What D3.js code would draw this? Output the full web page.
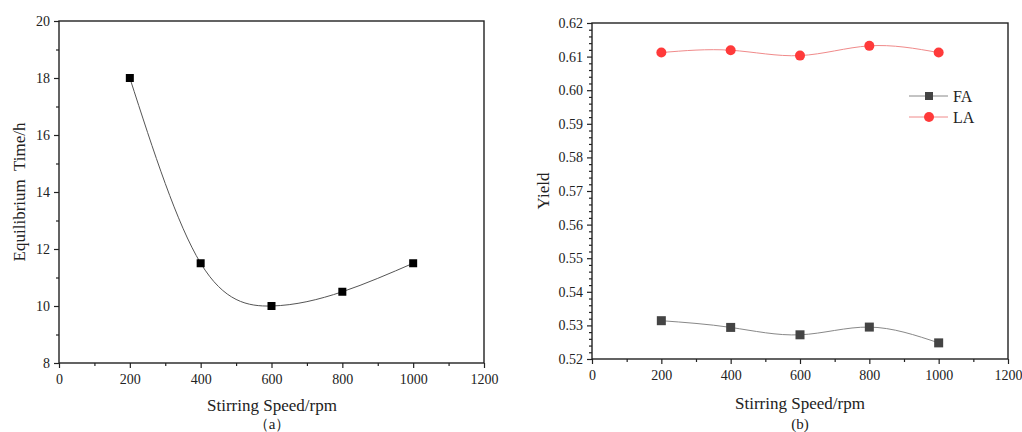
<!DOCTYPE html>
<html>
<head>
<meta charset="utf-8">
<script src="https://cdn.jsdelivr.net/npm/d3@7"></script>
<style>
  body { margin: 0; background: #fff; }
  svg text { font-family: "Liberation Serif", "DejaVu Serif", serif; fill: #222; }
</style>
</head>
<body>
<svg width="1022" height="432"></svg>
<script>
// data
var speeds = [200, 400, 600, 800, 1000];
var eqTime = [18, 11.5, 10, 10.5, 11.5];
var faYield = [0.5314, 0.5294, 0.5272, 0.5295, 0.5248];
var laYield = [0.6112, 0.6119, 0.6103, 0.6132, 0.6112];
var xTicks = [0, 200, 400, 600, 800, 1000, 1200];
var leftYTicks = [8, 10, 12, 14, 16, 18, 20];
var rightYTicks = [0.52, 0.53, 0.54, 0.55, 0.56, 0.57, 0.58, 0.59, 0.60, 0.61, 0.62];

var svg = d3.select("svg");

function panel(box, yDomain, yTicks, yMinor, yFmt) {
    var x = d3.scaleLinear().domain([0, 1200]).range([box.left, box.right]);
    var y = d3.scaleLinear().domain(yDomain).range([box.bottom, box.top]);
    var g = svg.append("g");

    // minor ticks
    g.append("g")
        .attr("transform", "translate(0," + box.bottom + ")")
        .call(d3.axisBottom(x).tickValues(d3.range(100, 1200, 200)).tickSize(3).tickFormat(""))
        .call(function(s) { s.select(".domain").remove(); });
    g.append("g")
        .attr("transform", "translate(" + box.left + ",0)")
        .call(d3.axisLeft(y).tickValues(yMinor).tickSize(3).tickFormat(""))
        .call(function(s) { s.select(".domain").remove(); });

    // major ticks
    var xa = g.append("g")
        .attr("transform", "translate(0," + box.bottom + ")")
        .call(d3.axisBottom(x).tickValues(xTicks).tickSize(5).tickPadding(6).tickFormat(d3.format("d")));
    var ya = g.append("g")
        .attr("transform", "translate(" + box.left + ",0)")
        .call(d3.axisLeft(y).tickValues(yTicks).tickSize(5).tickPadding(4).tickFormat(yFmt));
    [xa, ya].forEach(function(a) {
        a.attr("font-family", "Liberation Serif").attr("font-size", 14);
        a.selectAll("text").attr("fill", "#222");
        a.select(".domain").remove();
    });
    g.selectAll(".tick line").attr("stroke", "#222").attr("stroke-width", 1.2);

    g.append("rect")
        .attr("x", box.left).attr("y", box.top)
        .attr("width", box.right - box.left).attr("height", box.bottom - box.top)
        .attr("fill", "none").attr("stroke", "#222").attr("stroke-width", 1.4);

    return { x: x, y: y, g: g };
}

// (a)
var a = panel({ left: 59, right: 484, top: 21, bottom: 363 }, [8, 20], leftYTicks,
    d3.range(9, 20, 2), d3.format("d"));

var lineA = d3.line().curve(d3.curveNatural)
    .x(function(d, i) { return a.x(speeds[i]); })
    .y(function(d) { return a.y(d); });
a.g.append("path").datum(eqTime).attr("d", lineA)
    .attr("fill", "none").attr("stroke", "#555").attr("stroke-width", 1);
a.g.selectAll(".sq").data(eqTime).enter().append("rect")
    .attr("x", function(d, i) { return a.x(speeds[i]) - 4; })
    .attr("y", function(d) { return a.y(d) - 4; })
    .attr("width", 8).attr("height", 8).attr("fill", "#000");

svg.append("text").attr("x", 272).attr("y", 411).attr("text-anchor", "middle")
    .style("font-size", "17px").text("Stirring Speed/rpm");
svg.append("text").attr("x", 272).attr("y", 429).attr("text-anchor", "middle")
    .style("font-size", "15px").text("（a）");
svg.append("text").attr("transform", "translate(25,192) rotate(-90)")
    .attr("text-anchor", "middle").style("font-size", "17px")
    .attr("xml:space", "preserve").style("white-space", "pre")
    .text("Equilibrium  Time/h");

// (b)
var b = panel({ left: 592, right: 1008, top: 23, bottom: 359 }, [0.52, 0.62], rightYTicks,
    d3.range(0, 50).map(function(i) { return 0.52 + i * 0.002; }).filter(function(v, i) { return i % 5 !== 0; }),
    d3.format(".2f"));

var lineB = d3.line().curve(d3.curveNatural)
    .x(function(d, i) { return b.x(speeds[i]); })
    .y(function(d) { return b.y(d); });

b.g.append("path").datum(faYield).attr("d", lineB)
    .attr("fill", "none").attr("stroke", "#888").attr("stroke-width", 1);
b.g.append("path").datum(laYield).attr("d", lineB)
    .attr("fill", "none").attr("stroke", "#f08a8a").attr("stroke-width", 1);
b.g.selectAll(".fa").data(faYield).enter().append("rect")
    .attr("x", function(d, i) { return b.x(speeds[i]) - 4.5; })
    .attr("y", function(d) { return b.y(d) - 4.5; })
    .attr("width", 9).attr("height", 9).attr("fill", "#444");
b.g.selectAll(".la").data(laYield).enter().append("circle")
    .attr("cx", function(d, i) { return b.x(speeds[i]); })
    .attr("cy", function(d) { return b.y(d); })
    .attr("r", 5).attr("fill", "#ff3a3a");

// legend
var legend = [
    { name: "FA", y: 96, line: "#888", fill: "#444", shape: "sq" },
    { name: "LA", y: 117, line: "#f08a8a", fill: "#ff3a3a", shape: "ci" }
];
legend.forEach(function(l) {
    svg.append("line").attr("x1", 909).attr("x2", 948).attr("y1", l.y).attr("y2", l.y)
        .attr("stroke", l.line).attr("stroke-width", 1);
    if (l.shape === "sq") {
        svg.append("rect").attr("x", 925).attr("y", l.y - 4).attr("width", 8).attr("height", 8).attr("fill", l.fill);
    } else {
        svg.append("circle").attr("cx", 929).attr("cy", l.y).attr("r", 5).attr("fill", l.fill);
    }
    svg.append("text").attr("x", 953).attr("y", l.y + 5.5).style("font-size", "16px").text(l.name);
});

svg.append("text").attr("x", 800).attr("y", 409).attr("text-anchor", "middle")
    .style("font-size", "17px").text("Stirring Speed/rpm");
svg.append("text").attr("x", 800).attr("y", 429).attr("text-anchor", "middle")
    .style("font-size", "15px").text("(b)");
svg.append("text").attr("transform", "translate(549,191) rotate(-90)")
    .attr("text-anchor", "middle").style("font-size", "17px").text("Yield");
</script>
</body>
</html>
